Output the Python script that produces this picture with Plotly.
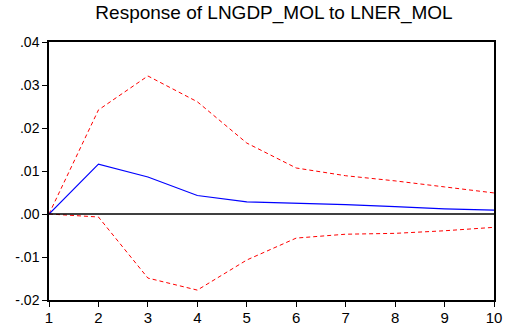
import plotly.graph_objects as go

periods = [1, 2, 3, 4, 5, 6, 7, 8, 9, 10]
response = [0.0, 0.0116, 0.0086, 0.0043, 0.0028, 0.0025, 0.0022, 0.0017, 0.0012, 0.0009]
upper = [0.0, 0.0242, 0.0321, 0.0261, 0.0165, 0.0107, 0.0089, 0.0077, 0.0063, 0.0049]
lower = [0.0, -0.0007, -0.0149, -0.0177, -0.0107, -0.0056, -0.0047, -0.0045, -0.0039, -0.0031]
y_tickvals = [-0.02, -0.01, 0.0, 0.01, 0.02, 0.03, 0.04]
y_ticktext = ["-.02", "-.01", ".00", ".01", ".02", ".03", ".04"]

fig = go.Figure()
fig.add_trace(go.Scatter(x=periods, y=upper, mode="lines",
                         line=dict(color="red", width=1, dash="4px,3px"), showlegend=False))
fig.add_trace(go.Scatter(x=periods, y=lower, mode="lines",
                         line=dict(color="red", width=1, dash="4px,3px"), showlegend=False))
fig.add_trace(go.Scatter(x=periods, y=response, mode="lines",
                         line=dict(color="blue", width=1.2), showlegend=False))

fig.add_hline(y=0, line=dict(color="black", width=1.3))

font = "Liberation Sans, Arial, sans-serif"
fig.update_layout(
    width=505, height=328,
    margin=dict(l=49, r=11, t=42, b=28),
    paper_bgcolor="white", plot_bgcolor="white",
    title=dict(text="Response of LNGDP_MOL to LNER_MOL", x=0.5426, xanchor="center",
               y=0.962, yanchor="middle",
               font=dict(family=font, size=19, color="black")),
    font=dict(family=font, color="black"),
)
fig.update_xaxes(range=[1, 10], tickvals=periods, ticks="outside", ticklen=5,
                 tickcolor="black", showline=True, linecolor="black", linewidth=1.5,
                 mirror=True, showgrid=False, zeroline=False, automargin=False,
                 ticklabelstandoff=-2,
                 tickfont=dict(size=15, family=font, color="black"))
fig.update_yaxes(range=[-0.02, 0.04], tickvals=y_tickvals, ticktext=y_ticktext,
                 ticks="outside", ticklen=5, tickcolor="black", showline=True,
                 linecolor="black", linewidth=1.5, mirror=True, showgrid=False,
                 zeroline=False, automargin=False,
                 tickfont=dict(size=14, family=font, color="black"))

fig.write_html("out.html")
